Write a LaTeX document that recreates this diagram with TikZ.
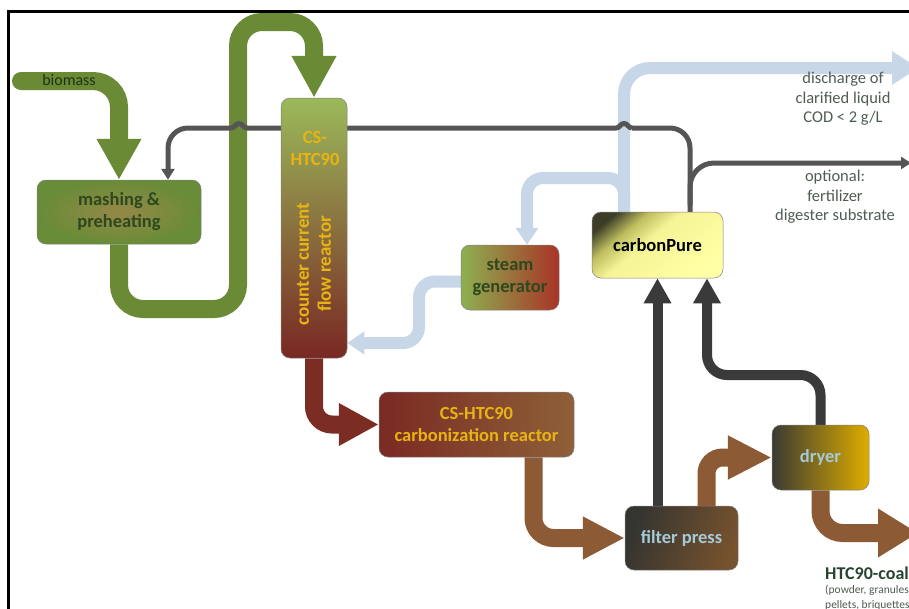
\documentclass[tikz,border=0pt]{standalone}
\usepackage{fontspec}
\setmainfont{Carlito}
\usetikzlibrary{arrows.meta}
\definecolor{pipegreen}{RGB}{107,138,53}
\definecolor{pipered}{RGB}{123,45,35}
\definecolor{pipebrown}{RGB}{140,90,52}
\definecolor{pipegray}{RGB}{58,58,58}
\definecolor{linegray}{RGB}{85,85,85}
\definecolor{pipeblue}{RGB}{200,215,232}
\definecolor{txtgreen}{RGB}{45,72,30}
\definecolor{txtgold}{RGB}{232,180,20}
\definecolor{txtblue}{RGB}{165,202,216}
\definecolor{txtgray}{RGB}{80,92,82}
\definecolor{txtcoal}{RGB}{40,68,48}
\definecolor{cplight}{RGB}{255,255,165}
\definecolor{cplight2}{RGB}{245,245,150}
\definecolor{cpmid}{RGB}{190,190,95}
\definecolor{cpdark}{RGB}{60,60,40}
\definecolor{cstop}{RGB}{155,185,90}
\definecolor{csmid}{RGB}{140,115,62}
\definecolor{csbot}{RGB}{120,40,35}
\definecolor{carbl}{RGB}{122,42,35}
\definecolor{carbr}{RGB}{142,96,56}
\definecolor{steaml}{RGB}{142,176,80}
\definecolor{steamr}{RGB}{168,52,40}
\definecolor{mashin}{RGB}{150,136,72}
\definecolor{mashout}{RGB}{104,140,55}
\definecolor{fpdark}{RGB}{52,52,48}
\definecolor{fpbrown}{RGB}{118,82,46}
\definecolor{dryl}{RGB}{58,58,50}
\definecolor{dryr}{RGB}{222,172,0}
\pgfdeclareverticalshading{cpshade}{100bp}{color(0bp)=(cplight); color(25bp)=(cplight); color(55bp)=(cplight2); color(66bp)=(cpmid); color(77bp)=(cpdark); color(100bp)=(cpdark)}
\pgfdeclarelayer{bg}
\pgfsetlayers{bg,main}
\newcommand\bxfont{\fontsize{18.5}{22}\selectfont\bfseries}
\begin{document}
\begin{tikzpicture}[x=1pt,y=-1pt,
  box/.style={draw=black!50, line width=0.5pt, rounded corners=9pt, inner sep=0pt, align=center, font=\bxfont},
  pipe/.style={line width=18pt},
  bluepipe/.style={line width=12pt, pipeblue},
  thickgray/.style={line width=10pt, pipegray, -{Triangle[length=25pt,width=26pt]}},
  thingray/.style={line width=5pt, linegray},
  lbl/.style={inner sep=0pt, align=center, text=txtgray, font=\fontsize{16.5}{19.5}\selectfont}
]
\clip (0,0) rectangle (909,608);

% boxes
\node[box, minimum width=164pt, minimum height=64pt, inner color=mashin, outer color=mashout, text=txtgreen] (mash) at (119,212) {mashing \&\\preheating};
\node[box, minimum width=66pt, minimum height=260pt, top color=cstop, middle color=csmid, bottom color=csbot] (cs) at (314,228) {};
\node[inner sep=0pt, align=center, text=txtgold, font=\bxfont] (cslbl) at (315,148) {CS-\\HTC90};
\node[inner sep=0pt, align=center, text=txtgold, font=\fontsize{19}{22}\selectfont\bfseries, rotate=90] (cslbl2) at (314,264) {counter current\\flow reactor};
\node[box, minimum width=98pt, minimum height=65pt, left color=steaml, right color=steamr, text=txtgreen] (steam) at (510,277.5) {steam\\generator};
\node[box, minimum width=131pt, minimum height=66pt, shading=cpshade, shading angle=40, text=black] (cp) at (657.5,245) {carbonPure};
\node[box, minimum width=195pt, minimum height=65pt, left color=carbl, right color=carbr, text=txtgold] (carb) at (476.5,424.5) {CS-HTC90\\carbonization reactor};
\node[box, minimum width=113pt, minimum height=64pt, left color=fpdark, right color=fpbrown, shading angle=70, text=txtblue] (filt) at (681.5,538) {filter press};
\node[box, minimum width=97pt, minimum height=65pt, left color=dryl, right color=dryr, text=txtblue] (dryer) at (820.5,457.5) {dryer};

% labels
\node[inner sep=0pt, text=txtgreen!70!black, font=\fontsize{16}{18}\selectfont] (biolbl) at (69,80) {biomass};
\node[lbl] (dis) at (843,99) {discharge of\\clarified liquid\\COD < 2 g/L};
\node[lbl] (opt) at (835,197) {optional:\\fertilizer\\digester substrate};
\node[inner sep=0pt, anchor=west, text=txtcoal, font=\fontsize{18}{20}\selectfont\bfseries] (coal) at (825,573) {HTC90-coal};
\node[inner sep=0pt, anchor=north west, align=left, text=txtgray, font=\fontsize{11.5}{15}\selectfont] (coalsub) at (825,585) {(powder, granules\\pellets, briquettes};

\coordinate (bioIn) at (21,81);
\coordinate (outA) at (918,68);
\coordinate (outB) at (911,163);
\coordinate (outC) at (918,533);

\begin{pgfonlayer}{bg}
\fill[white] (0,0) rectangle (909,608);
% green
\draw[pipe, pipegreen, line cap=round, rounded corners=26pt, -{Triangle[length=41pt,width=42pt]}] (bioIn) -- (119,81) -- (mash.north);
\draw[pipe, pipegreen, rounded corners=24pt, -{Triangle[length=42pt,width=42pt]}] (mash.south) -- (119,309) -- (238,309) -- (238,22) -- (314,22) -- (cs.north);
% red
\draw[pipe, pipered, rounded corners=18pt, -{Triangle[length=40pt,width=40pt]}] (cs.south) -- (314,424.5) -- (carb.west);
% brown
\draw[pipe, pipebrown, rounded corners=20pt, -{Triangle[length=42pt,width=40pt]}] ([xshift=57pt]carb.south) -- (533.5,538) -- (filt.west);
\draw[pipe, pipebrown, rounded corners=16pt, -{Triangle[length=44pt,width=41pt]}] ([xshift=25pt]filt.north) -- (706.5,457.5) -- (dryer.west);
\draw[pipe, pipebrown, rounded corners=22pt, -{Triangle[length=40pt,width=46pt]}] (dryer.south) -- (820.5,533) -- (outC);
% blue
\draw[bluepipe, rounded corners=26pt, -{Triangle[length=26pt,width=32pt]}] ([xshift=-33.5pt]cp.north) -- (624,68) -- (outA);
\draw[bluepipe, rounded corners=16pt, -{Triangle[length=17pt,width=22pt]}] (624,205) -- (624,178) -- (527,178) -- ([xshift=17pt]steam.north);
\draw[bluepipe, rounded corners=16pt, -{Triangle[length=17pt,width=22pt]}] ([yshift=-4pt]steam.west) -- (419,281.5) -- (419,343) -- ([yshift=-115pt]cs.east);
% dark gray thick
\draw[thickgray] (cp.south |- filt.north) -- (cp.south);
\draw[thickgray, rounded corners=20pt] (dryer.north) -- (820.5,375) -- (707,375) -- ([xshift=49.5pt]cp.south);
% thin gray recycle
\draw[thingray, rounded corners=20pt] ([xshift=32.5pt]cp.north) -- (690,128) -- (632,128);
\draw[thingray] (632,128) .. controls (628,128) and (628,123.5) .. (624,123.5) .. controls (620,123.5) and (620,128) .. (616,128)
  -- (247,128) .. controls (243,128) and (243,123.5) .. (239,123.5) .. controls (235,123.5) and (235,128) .. (231,128);
\draw[thingray, rounded corners=20pt, -{Triangle[length=11pt,width=13pt]}] (231,128) -- (168,128) -- ([xshift=49pt]mash.north);
\draw[thingray, rounded corners=24pt, -{Triangle[length=10pt,width=12pt]}] (690,205) -- (690,163) -- (outB);
\end{pgfonlayer}

% frame
\draw[line width=2.5pt] (8.5,612) -- (8.5,11.5) -- (912,11.5);
\end{tikzpicture}
\end{document}
